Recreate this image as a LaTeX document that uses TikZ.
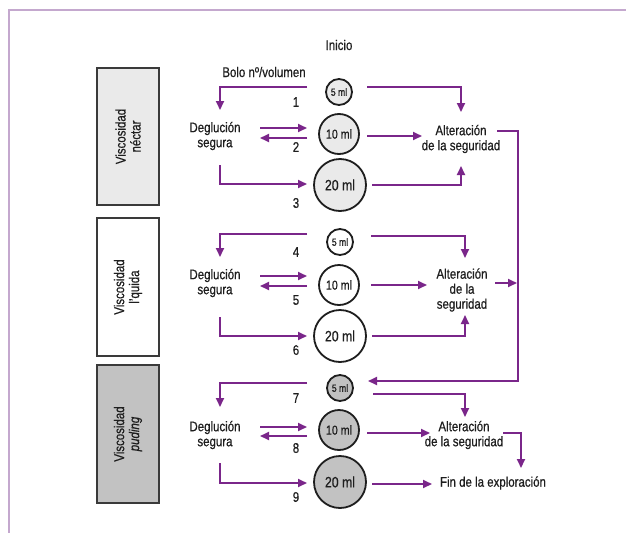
\documentclass[tikz,border=0pt]{standalone}
\usepackage{fontspec}
\setmainfont{Liberation Sans}[FakeStretch=0.82,FakeBold=0.6]
\usetikzlibrary{arrows.meta}
\definecolor{arrc}{RGB}{122,38,138}
\definecolor{framec}{RGB}{196,168,206}
\definecolor{boxline}{RGB}{58,58,58}
\definecolor{txt}{RGB}{30,30,30}
\definecolor{lightg}{RGB}{234,234,234}
\definecolor{midg}{RGB}{194,194,194}
\begin{document}
\begin{tikzpicture}[x=1pt,y=-1pt,
  lbl/.style={text=txt,font=\fontsize{14}{15}\selectfont,inner sep=0pt,align=center},
  num/.style={text=txt,font=\fontsize{14}{15}\selectfont,inner sep=0pt},
  vbox/.style={draw=boxline,line width=2pt,minimum width=62pt,inner sep=0pt},
  cir/.style={circle,draw=txt,line width=1.8pt,inner sep=0pt,text=txt},
  c5/.style={cir,minimum size=26pt,font=\fontsize{10.5}{10}\selectfont},
  c10/.style={cir,minimum size=40pt,font=\fontsize{13}{12}\selectfont},
  c20/.style={cir,minimum size=52pt,font=\fontsize{15}{15}\selectfont},
  arr/.style={draw=arrc,line width=1.8pt,-{Triangle[length=9pt,width=8pt]}},
  ln/.style={draw=arrc,line width=1.8pt}
]
\useasboundingbox (0,0) rectangle (626,533);
\fill[white] (0,0) rectangle (626,533);
% frame
\coordinate (fr1) at (626,10);
\coordinate (fr2) at (9,10);
\coordinate (fr3) at (9,533);
\draw[framec,line width=1.5pt] (fr1) -- (fr2) -- (fr3);

% headings
\node[lbl] (inicio) at (339,45) {Inicio};
\node[lbl] (bolo) at (264,72) {Bolo nº/volumen};

% side boxes
\node[vbox,fill=lightg,minimum height=137pt] (box1) at (128,136.5) {};
\node[vbox,fill=white,minimum height=138pt] (box2) at (128,287) {};
\node[vbox,fill=midg,minimum height=138pt] (box3) at (128,434) {};
\node[lbl,rotate=90] (t1) at (box1.center) {Viscosidad\\néctar};
\node[lbl,rotate=90] (t2) at (box2.center) {Viscosidad\\l'quida};
\node[lbl,rotate=90] (t3) at (box3.center) {Viscosidad\\\itshape puding};

% circles
\node[c5,fill=lightg] (a5) at (339,92) {5 ml};
\node[c10,fill=lightg] (a10) at (339,134) {10 ml};
\node[c20,fill=lightg] (a20) at (340,185) {20 ml};
\node[c5,fill=white] (b5) at (340,242) {5 ml};
\node[c10,fill=white] (b10) at (339,285) {10 ml};
\node[c20,fill=white] (b20) at (340,336) {20 ml};
\node[c5,fill=midg] (d5) at (340,388) {5 ml};
\node[c10,fill=midg] (d10) at (339,430) {10 ml};
\node[c20,fill=midg] (d20) at (340,482) {20 ml};

% text nodes
\node[lbl] (deg1) at (215,136) {Deglución\\segura};
\node[lbl] (deg2) at (215,283) {Deglución\\segura};
\node[lbl] (deg3) at (215,435) {Deglución\\segura};
\node[lbl] (alt1) at (461,139) {Alteración\\de la seguridad};
\node[lbl] (alt2) at (462,290) {Alteración\\de la\\seguridad};
\node[lbl] (alt3) at (464,435) {Alteración\\de la seguridad};
\node[lbl] (fin) at (493,483) {Fin de la exploración};

% numbers
\node[num] (n1) at (296,102) {1};
\node[num] (n2) at (296,147) {2};
\node[num] (n3) at (296,203) {3};
\node[num] (n4) at (296,252) {4};
\node[num] (n5) at (296,300) {5};
\node[num] (n6) at (296,350) {6};
\node[num] (n7) at (296,398) {7};
\node[num] (n8) at (296,448) {8};
\node[num] (n9) at (296,497) {9};

% ---------- row 1 left ----------
\coordinate (r1a) at (307,87);  \coordinate (r1b) at (220,87);  \coordinate (r1c) at (220,110);
\draw[arr] (r1a) -- (r1b) -- (r1c);
\coordinate (r1d) at (260,128); \coordinate (r1e) at (307,128);
\draw[arr] (r1d) -- (r1e);
\coordinate (r1f) at (307,138); \coordinate (r1g) at (260,138);
\draw[arr] (r1f) -- (r1g);
\coordinate (r1h) at (220,165); \coordinate (r1i) at (220,184); \coordinate (r1j) at (307,184);
\draw[arr] (r1h) -- (r1i) -- (r1j);
% row 1 right
\coordinate (r1k) at (367,87); \coordinate (r1l) at (461,87); \coordinate (r1m) at (461,112);
\draw[arr] (r1k) -- (r1l) -- (r1m);
\coordinate (r1n) at (367,136); \coordinate (r1o) at (422,136);
\draw[arr] (r1n) -- (r1o);
\coordinate (r1p) at (372,185); \coordinate (r1q) at (461,185); \coordinate (r1r) at (461,166);
\draw[arr] (r1p) -- (r1q) -- (r1r);
\coordinate (ex1) at (497,131); \coordinate (ex2) at (518,131); \coordinate (ex3) at (518,381); \coordinate (ex4) at (368,381);
\draw[arr] (ex1) -- (ex2) -- (ex3) -- (ex4);

% ---------- row 2 left ----------
\coordinate (r2a) at (307,234);  \coordinate (r2b) at (220,234);  \coordinate (r2c) at (220,257);
\draw[arr] (r2a) -- (r2b) -- (r2c);
\coordinate (r2d) at (260,276); \coordinate (r2e) at (307,276);
\draw[arr] (r2d) -- (r2e);
\coordinate (r2f) at (307,286); \coordinate (r2g) at (260,286);
\draw[arr] (r2f) -- (r2g);
\coordinate (r2h) at (220,317); \coordinate (r2i) at (220,336); \coordinate (r2j) at (307,336);
\draw[arr] (r2h) -- (r2i) -- (r2j);
% row 2 right
\coordinate (r2k) at (371,236); \coordinate (r2l) at (465,236); \coordinate (r2m) at (465,258);
\draw[arr] (r2k) -- (r2l) -- (r2m);
\coordinate (r2n) at (371,285); \coordinate (r2o) at (427,285);
\draw[arr] (r2n) -- (r2o);
\coordinate (r2p) at (372,336); \coordinate (r2q) at (465,336); \coordinate (r2r) at (465,315);
\draw[arr] (r2p) -- (r2q) -- (r2r);
\coordinate (r2s) at (495,283); \coordinate (r2t) at (517,283);
\draw[arr] (r2s) -- (r2t);

% ---------- row 3 left ----------
\coordinate (r3a) at (307,383);  \coordinate (r3b) at (220,383);  \coordinate (r3c) at (220,407);
\draw[arr] (r3a) -- (r3b) -- (r3c);
\coordinate (r3d) at (260,427); \coordinate (r3e) at (307,427);
\draw[arr] (r3d) -- (r3e);
\coordinate (r3f) at (307,436); \coordinate (r3g) at (260,436);
\draw[arr] (r3f) -- (r3g);
\coordinate (r3h) at (220,463); \coordinate (r3i) at (220,483); \coordinate (r3j) at (307,483);
\draw[arr] (r3h) -- (r3i) -- (r3j);
% row 3 right
\coordinate (r3k) at (373,394); \coordinate (r3l) at (465,394); \coordinate (r3m) at (465,417);
\draw[arr] (r3k) -- (r3l) -- (r3m);
\coordinate (r3n) at (367,433); \coordinate (r3o) at (430,433);
\draw[arr] (r3n) -- (r3o);
\coordinate (r3p) at (503,433); \coordinate (r3q) at (521,433); \coordinate (r3r) at (521,468);
\draw[arr] (r3p) -- (r3q) -- (r3r);
\coordinate (r3s) at (372,484); \coordinate (r3t) at (432,484);
\draw[arr] (r3s) -- (r3t);
\end{tikzpicture}
\end{document}
